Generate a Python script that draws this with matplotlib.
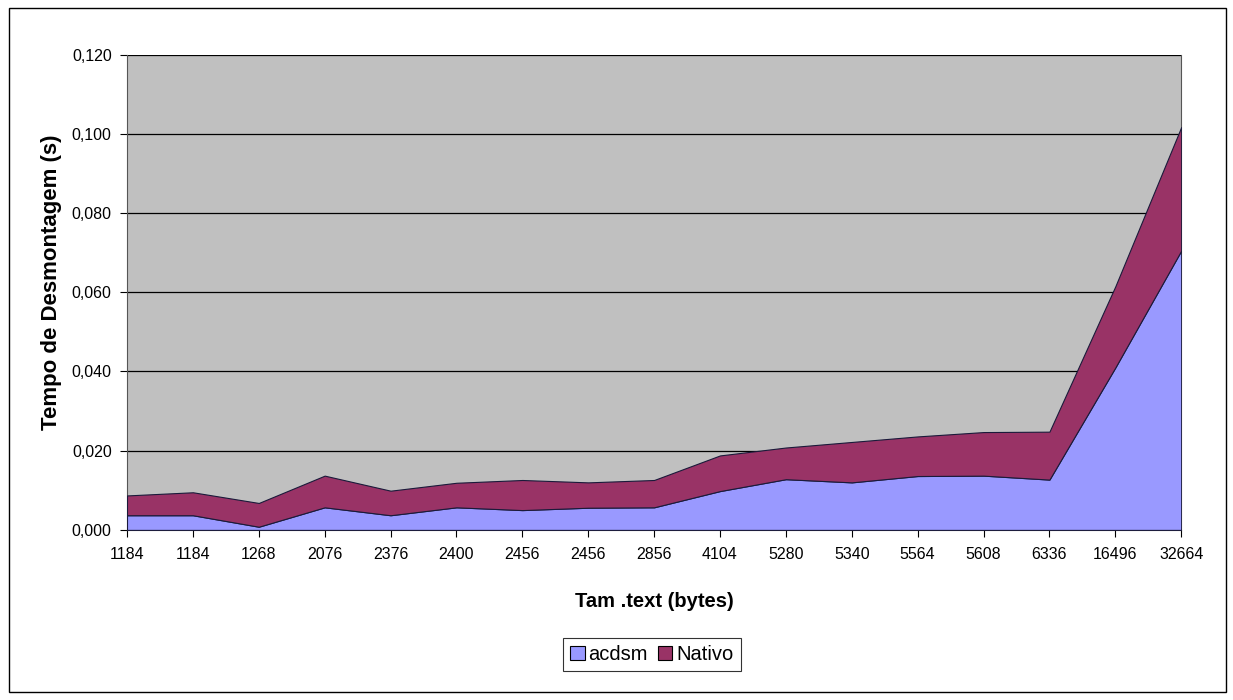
import matplotlib.pyplot as plt
from matplotlib.patches import Rectangle
import numpy as np

plt.rcParams['font.family'] = ['Liberation Sans', 'DejaVu Sans']

# Tamanho da secao .text de cada binario
tamanhos = ["1184", "1184", "1268", "2076", "2376", "2400", "2456", "2456", "2856",
            "4104", "5280", "5340", "5564", "5608", "6336", "16496", "32664"]

# Tempos de desmontagem (s)
acdsm = [0.0037, 0.0037, 0.0008, 0.0057, 0.0037, 0.0057, 0.0050, 0.0056, 0.0057,
         0.0098, 0.0128, 0.0120, 0.0136, 0.0137, 0.0127, 0.0410, 0.0705]
nativo = [0.0050, 0.0058, 0.0060, 0.0080, 0.0062, 0.0062, 0.0076, 0.0064, 0.0069,
          0.0090, 0.0080, 0.0102, 0.0100, 0.0110, 0.0121, 0.0205, 0.0312]

x = np.arange(len(tamanhos))

fig = plt.figure(figsize=(12.33, 7.0), dpi=100)
fig.patches.append(Rectangle((0.007, 0.011), 0.987, 0.977, transform=fig.transFigure,
                             fill=False, edgecolor='black', linewidth=1.0))

ax = fig.add_axes([0.103, 0.243, 0.855, 0.679])
ax.set_facecolor('#C0C0C0')

ax.stackplot(x, acdsm, nativo, colors=['#9999FF', '#993366'],
             labels=['acdsm', 'Nativo'], edgecolor='#1a1a3a', linewidth=0.8,
             zorder=3)

ax.set_xlim(0, len(x) - 1)
ax.set_ylim(0, 0.12)
ax.set_yticks(np.arange(0, 0.121, 0.02))
ax.set_yticklabels([f"{v:.3f}".replace('.', ',') for v in np.arange(0, 0.121, 0.02)])
ax.set_xticks(x)
ax.set_xticklabels(tamanhos)
ax.grid(axis='y', color='black', linewidth=0.9, zorder=1)
ax.set_axisbelow(True)

ax.spines['top'].set_visible(False)
ax.spines['right'].set_color('#555555')
ax.spines['left'].set_color('#555555')
ax.spines['bottom'].set_color('#555555')
ax.tick_params(axis='both', direction='out', length=5, labelsize=11.5, colors='black')
ax.tick_params(axis='x', pad=7)
ax.tick_params(axis='y', pad=6)

ax.set_xlabel("Tam .text (bytes)", fontsize=14.5, fontweight='bold', labelpad=22)
ax.set_ylabel("Tempo de Desmontagem (s)", fontsize=16, fontweight='bold')
ax.yaxis.set_label_coords(-0.062, 0.52)

leg = ax.legend(loc='upper center', bbox_to_anchor=(0.498, -0.227), ncol=2,
                frameon=True, fancybox=False, edgecolor='black', fontsize=14.5,
                handlelength=0.7, handleheight=0.7, handletextpad=0.2,
                columnspacing=0.5, borderpad=0.35, borderaxespad=0)
leg.get_frame().set_linewidth(0.8)
for h in leg.legend_handles:
    h.set_edgecolor('black')
    h.set_linewidth(0.8)

fig.savefig("out.png", dpi=100)
